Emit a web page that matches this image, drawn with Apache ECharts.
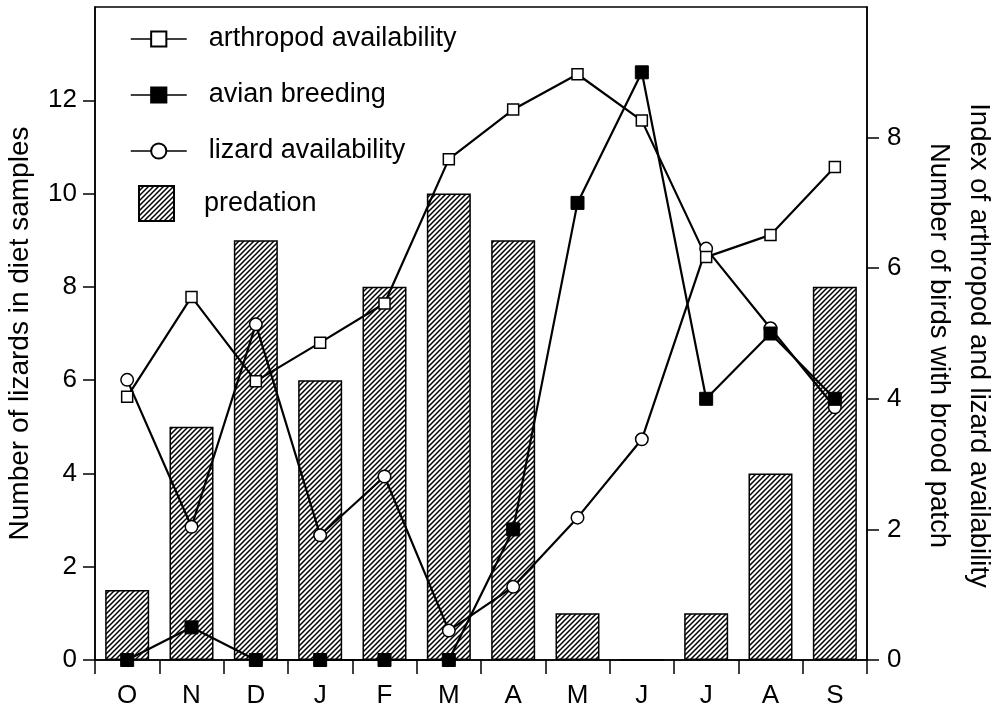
<!DOCTYPE html>
<html>
<head>
<meta charset="utf-8">
<script src="https://cdn.jsdelivr.net/npm/echarts@6/dist/echarts.min.js"></script>
<style>
html,body{margin:0;padding:0;background:#fff;overflow:hidden;}
#chart{width:995px;height:714px;}
</style>
</head>
<body>
<div id="chart"></div>
<script>
// ---- data ----
const months = ['O','N','D','J','F','M','A','M','J','J','A','S'];
const predation = [1.5, 5, 9, 6, 8, 10, 9, 1, 0, 1, 4, 8];
const arthropod = [4.03, 5.56, 4.27, 4.86, 5.46, 7.67, 8.43, 8.97, 8.26, 6.17, 6.51, 7.55];
const avian = [0, 0.5, 0, 0, 0, 0, 2.0, 7.0, 9.0, 4.0, 5.0, 4.0];
const lizard = [4.29, 2.04, 5.14, 1.91, 2.81, 0.45, 1.12, 2.18, 3.38, 6.3, 5.08, 3.87];
const leftTicks = [0, 2, 4, 6, 8, 10, 12];
const rightTicks = [0, 2, 4, 6, 8];

function hatch() {
  const s = 5, c = document.createElement('canvas');
  c.width = s; c.height = s;
  const g = c.getContext('2d');
  g.fillStyle = '#fff'; g.fillRect(0, 0, s, s);
  g.strokeStyle = '#000'; g.lineWidth = 1.5;
  g.beginPath();
  g.moveTo(-1, s + 1); g.lineTo(s + 1, -1);
  g.moveTo(-1, 1); g.lineTo(1, -1);
  g.moveTo(s - 1, s + 1); g.lineTo(s + 1, s - 1);
  g.stroke();
  return c;
}
const hatchFill = { image: hatch(), repeat: 'repeat' };

const FONT = "'Liberation Sans', Arial, sans-serif";
const chart = echarts.init(document.getElementById('chart'));
chart.setOption({
  animation: false,
  backgroundColor: '#fff',
  textStyle: { fontFamily: FONT, color: '#000' },
  grid: { left: 95, right: 128, top: 7, bottom: 54, show: true, borderColor: '#000', borderWidth: 1.5, containLabel: false, outerBoundsMode: 'none' },
  legend: [{
    data: ['arthropod availability', 'avian breeding', 'lizard availability'],
    orient: 'vertical', left: 130, top: 25.5, padding: 0,
    itemWidth: 56, itemHeight: 19, itemGap: 29,
    lineStyle: { width: 1.5 },
    textStyle: { fontSize: 27, color: '#000', fontFamily: FONT, lineHeight: 27, padding: [0, 0, 0, 17] },
    selectedMode: false
  }, {
    data: ['predation'],
    orient: 'vertical', left: 138, top: 185, padding: 0,
    itemWidth: 35, itemHeight: 35, icon: 'rect',
    textStyle: { fontSize: 27, color: '#000', fontFamily: FONT, padding: [0, 0, 0, 25] },
    selectedMode: false
  }],
  xAxis: {
    type: 'category', data: months, boundaryGap: true,
    axisLine: { lineStyle: { color: '#000', width: 1.5 } },
    axisTick: { show: true, alignWithLabel: false, length: 14, lineStyle: { color: '#000', width: 1.5 } },
    axisLabel: { fontSize: 26, color: '#000', margin: 23, fontFamily: FONT, interval: 0 },
    splitLine: { show: false }
  },
  yAxis: [{
    type: 'value', min: 0, max: 14, interval: 2, position: 'left',
    name: 'Number of lizards in diet samples', nameLocation: 'middle', nameGap: 61, nameRotate: 90,
    nameTextStyle: { fontSize: 28, color: '#000', fontFamily: FONT },
    axisLine: { show: true, lineStyle: { color: '#000', width: 1.5 } },
    axisTick: { show: true, length: 12, customValues: leftTicks, lineStyle: { color: '#000', width: 1.5 } },
    axisLabel: { fontSize: 26, color: '#000', margin: 18, fontFamily: FONT, customValues: leftTicks },
    splitLine: { show: false }
  }, {
    type: 'value', min: 0, max: 10, interval: 2, position: 'right',
    name: 'Index of arthropod and lizard availability\nNumber of birds with brood patch',
    nameLocation: 'middle', nameGap: 52, nameRotate: -90,
    nameTextStyle: { fontSize: 27.5, color: '#000', fontFamily: FONT, lineHeight: 40, padding: [0, 0, 0, 24] },
    axisLine: { show: true, lineStyle: { color: '#000', width: 1.5 } },
    axisTick: { show: true, length: 12, customValues: rightTicks, lineStyle: { color: '#000', width: 1.5 } },
    axisLabel: { fontSize: 26, color: '#000', margin: 20, fontFamily: FONT, customValues: rightTicks },
    splitLine: { show: false }
  }],
  series: [{
    name: 'predation', type: 'bar', yAxisIndex: 0, data: predation, barWidth: 44,
    itemStyle: { color: hatchFill, borderColor: '#000', borderWidth: 1.5 }
  }, {
    name: 'lizard availability', type: 'line', yAxisIndex: 1, data: lizard,
    symbol: 'circle', symbolSize: 12.5, showAllSymbol: true,
    lineStyle: { color: '#000', width: 2.2 },
    itemStyle: { color: '#fff', borderColor: '#000', borderWidth: 1.5 }
  }, {
    name: 'arthropod availability', type: 'line', yAxisIndex: 1, data: arthropod,
    symbol: 'rect', symbolSize: 11, showAllSymbol: true,
    lineStyle: { color: '#000', width: 2.2 },
    itemStyle: { color: '#fff', borderColor: '#000', borderWidth: 1.5 }
  }, {
    name: 'avian breeding', type: 'line', yAxisIndex: 1, data: avian,
    symbol: 'rect', symbolSize: 13, showAllSymbol: true,
    lineStyle: { color: '#000', width: 2.2 },
    itemStyle: { color: '#000', borderColor: '#000', borderWidth: 1 }
  }]
});
</script>
</body>
</html>
